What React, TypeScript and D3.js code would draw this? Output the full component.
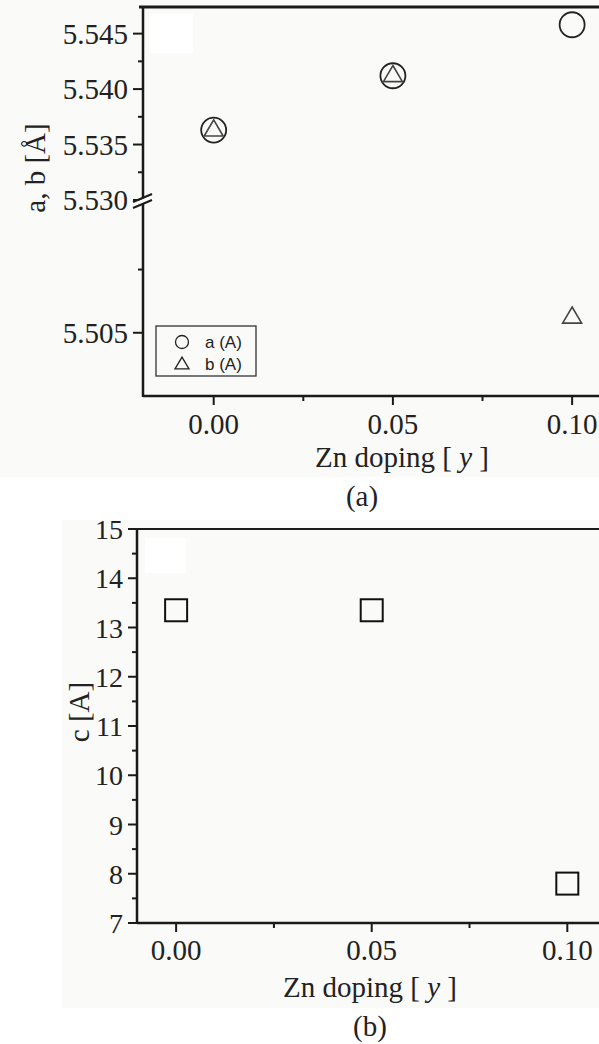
import React from "react";
import * as d3 from "d3";

// Lattice parameters vs Zn doping
const dopingA = [0.0, 0.05, 0.1];
const aValues = [5.5363, 5.5412, 5.5458];
const bValues = [5.5365, 5.5414, 5.5064];

const dopingC = [0.0, 0.05, 0.1];
const cValues = [13.35, 13.35, 7.8];

const xMajorTicks = [0.0, 0.05, 0.1];
const xMinorTicks = [0.025, 0.075];
const abUpperMajor = [5.53, 5.535, 5.54, 5.545];
const abUpperMinor = [5.5325, 5.5375, 5.5425];
const abLowerMajor = [5.505];
const abLowerMinor = [5.51];
const cMajor = [7, 8, 9, 10, 11, 12, 13, 14, 15];
const cMinor = [7.5, 8.5, 9.5, 10.5, 11.5, 12.5, 13.5, 14.5];

const W = 599;
const H = 1044;
const serif = "'Liberation Serif', 'Times New Roman', serif";
const sans = "'Liberation Sans', Arial, sans-serif";
const ink = "#1a1a1a";

// open triangle centred on its bounding box
function tri(cx: number, cy: number, w: number) {
  const h = w * 0.85;
  return `M${cx},${cy - h / 2}L${cx + w / 2},${cy + h / 2}L${cx - w / 2},${cy + h / 2}Z`;
}

export default function App() {
  // ---------- panel (a): broken y axis ----------
  const axA = { left: 143, top: 7, bottom: 396, right: W, brk: 200 };
  const xA = d3.scaleLinear().domain([-0.02, 0.1075]).range([axA.left - 1, W]);
  const yUp = d3.scaleLinear().domain([5.53, 5.5474]).range([axA.brk, axA.top]);
  const yLow = d3.scaleLinear().domain([5.5, 5.5155]).range([axA.bottom, axA.brk]);
  const yA = (v: number) => (v >= 5.53 ? yUp(v) : yLow(v));

  // ---------- panel (b) ----------
  const axB = { left: 137, top: 529, bottom: 923 };
  const xB = d3.scaleLinear().domain([-0.01, 0.1081]).range([axB.left, W]);
  const yB = d3.scaleLinear().domain([7, 15]).range([axB.bottom, axB.top]);

  const yMajorA = [
    ...abUpperMajor.map((v) => ({ v, y: yUp(v) })),
    ...abLowerMajor.map((v) => ({ v, y: yLow(v) })),
  ];
  const yMinorA = [...abUpperMinor.map((v) => yUp(v)), ...abLowerMinor.map((v) => yLow(v))];

  return (
    <svg
      width={W}
      height={H}
      style={{ position: "absolute", left: 0, top: 0, background: "#ffffff" }}
    >
      {/* paper tones */}
      <rect x={0} y={0} width={W} height={477} fill="#fafaf8" />
      <rect x={150} y={14} width={43} height={39} fill="#ffffff" />
      <rect x={62} y={520} width={W - 62} height={488} fill="#fafaf8" />
      <rect x={145} y={538} width={41} height={35} fill="#ffffff" />

      {/* ===== panel (a) ===== */}
      <g>
        <line x1={axA.left - 4} x2={W} y1={axA.top} y2={axA.top} stroke={ink} strokeWidth={3} />
        <line x1={axA.left} x2={axA.left} y1={axA.top - 1} y2={axA.bottom + 1} stroke={ink} strokeWidth={2.5} />
        <line x1={axA.left} x2={W} y1={axA.bottom} y2={axA.bottom} stroke={ink} strokeWidth={2.5} />

        {yMajorA.map((t) => (
          <g key={"ya" + t.v}>
            <line x1={axA.left - 10} x2={axA.left} y1={t.y} y2={t.y} stroke={ink} strokeWidth={2} />
            <text x={128} y={t.y + 10} textAnchor="end" fontFamily={serif} fontSize={29} fill="#222">
              {t.v.toFixed(3)}
            </text>
          </g>
        ))}
        {yMinorA.map((y, i) => (
          <line key={"yam" + i} x1={axA.left - 5} x2={axA.left} y1={y} y2={y} stroke={ink} strokeWidth={2} />
        ))}

        {/* axis break */}
        <polygon points={`133,203 152,195 152,200 133,208`} fill="#fafaf8" />
        <line x1={133} y1={202} x2={152} y2={194} stroke={ink} strokeWidth={2} />
        <line x1={133} y1={208} x2={152} y2={200} stroke={ink} strokeWidth={2} />

        {xMajorTicks.map((v) => (
          <g key={"xa" + v}>
            <line x1={xA(v)} x2={xA(v)} y1={axA.bottom} y2={axA.bottom + 9} stroke={ink} strokeWidth={2} />
            <text x={xA(v)} y={434} textAnchor="middle" fontFamily={serif} fontSize={29} fill="#222">
              {v.toFixed(2)}
            </text>
          </g>
        ))}
        {xMinorTicks.map((v) => (
          <line key={"xam" + v} x1={xA(v)} x2={xA(v)} y1={axA.bottom} y2={axA.bottom + 5} stroke={ink} strokeWidth={2} />
        ))}

        <text x={402} y={467} textAnchor="middle" fontFamily={serif} fontSize={29} fill="#222">
          Zn doping [ <tspan fontStyle="italic">y</tspan> ]
        </text>
        <text x={362} y={506} textAnchor="middle" fontFamily={serif} fontSize={29} fill="#222">
          (a)
        </text>
        <text
          transform={`translate(45,168) rotate(-90)`}
          textAnchor="middle"
          fontFamily={serif}
          fontSize={29}
          fill="#222"
        >
          a, b [Å]
        </text>

        {/* data */}
        {dopingA.map((x, i) => (
          <circle key={"a" + i} cx={xA(x)} cy={yA(aValues[i])} r={12.5} fill="none" stroke="#222" strokeWidth={1.8} />
        ))}
        {dopingA.map((x, i) => (
          <path key={"b" + i} d={tri(xA(x), yA(bValues[i]), 19)} fill="none" stroke="#444" strokeWidth={1.6} />
        ))}

        {/* legend */}
        <rect x={156} y={326} width={100} height={50} fill="#fafaf8" stroke="#333" strokeWidth={1.3} />
        <circle cx={182} cy={342} r={6.5} fill="none" stroke="#222" strokeWidth={1.3} />
        <path d={tri(182, 363, 14)} fill="none" stroke="#222" strokeWidth={1.3} />
        <text x={205} y={348} fontFamily={sans} fontSize={17} fill="#222">a (A)</text>
        <text x={205} y={370} fontFamily={sans} fontSize={17} fill="#222">b (A)</text>
      </g>

      {/* ===== panel (b) ===== */}
      <g>
        <line x1={axB.left - 3} x2={W} y1={axB.top} y2={axB.top} stroke={ink} strokeWidth={2.2} />
        <line x1={axB.left} x2={axB.left} y1={axB.top} y2={axB.bottom + 1} stroke={ink} strokeWidth={2.5} />
        <line x1={axB.left} x2={W} y1={axB.bottom} y2={axB.bottom} stroke={ink} strokeWidth={2.5} />

        {cMajor.map((v) => (
          <g key={"yb" + v}>
            <line x1={axB.left - 9} x2={axB.left} y1={yB(v)} y2={yB(v)} stroke={ink} strokeWidth={2} />
            <text x={123} y={yB(v) + 10} textAnchor="end" fontFamily={serif} fontSize={28} fill="#222">
              {v}
            </text>
          </g>
        ))}
        {cMinor.map((v) => (
          <line key={"ybm" + v} x1={axB.left - 5} x2={axB.left} y1={yB(v)} y2={yB(v)} stroke={ink} strokeWidth={2} />
        ))}

        {xMajorTicks.map((v) => (
          <g key={"xb" + v}>
            <line x1={xB(v)} x2={xB(v)} y1={axB.bottom} y2={axB.bottom + 9} stroke={ink} strokeWidth={2} />
            <text x={xB(v)} y={960} textAnchor="middle" fontFamily={serif} fontSize={29} fill="#222">
              {v.toFixed(2)}
            </text>
          </g>
        ))}
        {xMinorTicks.map((v) => (
          <line key={"xbm" + v} x1={xB(v)} x2={xB(v)} y1={axB.bottom} y2={axB.bottom + 5} stroke={ink} strokeWidth={2} />
        ))}

        <text x={370} y={997} textAnchor="middle" fontFamily={serif} fontSize={29} fill="#222">
          Zn doping [ <tspan fontStyle="italic">y</tspan> ]
        </text>
        <text x={370} y={1036} textAnchor="middle" fontFamily={serif} fontSize={29} fill="#222">
          (b)
        </text>
        <text
          transform={`translate(89,712) rotate(-90)`}
          textAnchor="middle"
          fontFamily={serif}
          fontSize={29}
          fill="#222"
        >
          c [A]
        </text>

        {dopingC.map((x, i) => (
          <rect
            key={"c" + i}
            x={xB(x) - 11}
            y={yB(cValues[i]) - 11}
            width={22}
            height={22}
            fill="none"
            stroke="#111"
            strokeWidth={2}
          />
        ))}
      </g>
    </svg>
  );
}
